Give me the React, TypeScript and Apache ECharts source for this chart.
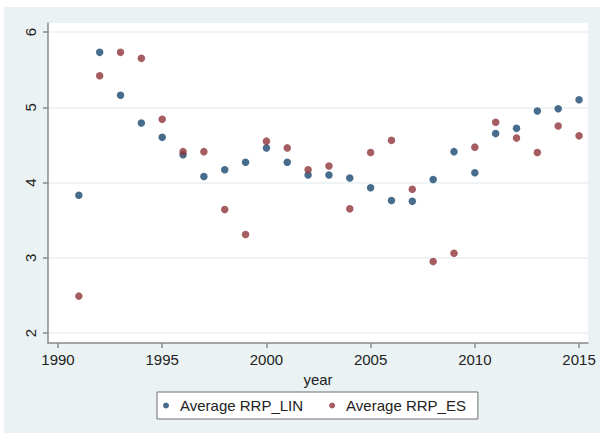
import React, { useEffect, useRef } from "react";
import * as echarts from "echarts";

const years = [1991, 1992, 1993, 1994, 1995, 1996, 1997, 1998, 1999, 2000, 2001, 2002, 2003, 2004, 2005, 2006, 2007, 2008, 2009, 2010, 2011, 2012, 2013, 2014, 2015];
const rrpLin = [3.83, 5.73, 5.16, 4.79, 4.6, 4.37, 4.08, 4.17, 4.27, 4.46, 4.27, 4.1, 4.1, 4.06, 3.93, 3.76, 3.75, 4.04, 4.41, 4.13, 4.65, 4.72, 4.95, 4.98, 5.1];
const rrpEs = [2.49, 5.42, 5.73, 5.65, 4.84, 4.41, 4.41, 3.64, 3.31, 4.55, 4.46, 4.17, 4.22, 3.65, 4.4, 4.56, 3.91, 2.95, 3.06, 4.47, 4.8, 4.59, 4.4, 4.75, 4.62];
const xTicks = [1990, 1995, 2000, 2005, 2010, 2015];
const yTicks = [2, 3, 4, 5, 6];
const seriesNames = ["Average RRP_LIN", "Average RRP_ES"];

const FONT = "Liberation Sans, Arial, sans-serif";

export default function App() {
  const ref = useRef<HTMLDivElement>(null);
  useEffect(() => {
    if (!ref.current) return;
    const chart = echarts.init(ref.current, undefined, { renderer: "svg" });
    const axisLineStyle = { color: "#8a8a8a", width: 1.5 };
    chart.setOption({
      animation: false,
      backgroundColor: "#ffffff",
      graphic: [
        {
          type: "rect",
          z: -10,
          silent: true,
          shape: { x: 4, y: 7, width: 596, height: 426 },
          style: { fill: "#eaf2f3" },
        },
      ],
      grid: {
        left: 48,
        top: 23,
        right: 12,
        bottom: 91,
        show: true,
        backgroundColor: "#ffffff",
        borderWidth: 0,
      },
      legend: {
        left: 157,
        top: 392,
        orient: "horizontal",
        backgroundColor: "#ffffff",
        borderColor: "#6e6e6e",
        borderWidth: 1,
        borderRadius: 0,
        padding: [6, 12, 6, 6],
        itemWidth: 6,
        itemHeight: 6,
        itemGap: 26,
        icon: "circle",
        textStyle: { fontFamily: FONT, fontSize: 15, color: "#222", padding: [0, 0, 0, 6] },
        data: seriesNames,
      },
      xAxis: {
        type: "value",
        min: 1989.52,
        max: 2015.43,
        name: "year",
        nameLocation: "middle",
        nameGap: 19,
        nameTextStyle: { fontFamily: FONT, fontSize: 15, color: "#222" },
        axisLine: { show: true, lineStyle: axisLineStyle },
        axisTick: { show: true, length: 5, inside: false, customValues: xTicks, lineStyle: axisLineStyle },
        axisLabel: {
          customValues: xTicks,
          formatter: (v: number) => String(v),
          fontFamily: FONT,
          fontSize: 15,
          color: "#222",
          margin: 9,
        },
        splitLine: { show: false },
      },
      yAxis: {
        type: "value",
        min: 1.867,
        max: 6.12,
        axisLine: { show: true, lineStyle: axisLineStyle },
        axisTick: { show: true, length: 5, inside: false, customValues: yTicks, lineStyle: axisLineStyle },
        axisLabel: { customValues: yTicks, rotate: 90, fontFamily: FONT, fontSize: 15, color: "#222", margin: 10 },
        splitLine: { show: true, lineStyle: { color: "#e8f0f2", width: 1.5 } },
      },
      series: [
        {
          name: seriesNames[0],
          type: "scatter",
          symbol: "circle",
          symbolSize: 7.5,
          itemStyle: { color: "#1a476f" },
          data: years.map((y, i) => [y, rrpLin[i]]),
        },
        {
          name: seriesNames[1],
          type: "scatter",
          symbol: "circle",
          symbolSize: 7.5,
          itemStyle: { color: "#90353b" },
          data: years.map((y, i) => [y, rrpEs[i]]),
        },
      ],
    });
    return () => chart.dispose();
  }, []);
  return (
    <div
      ref={ref}
      style={{ position: "absolute", left: 0, top: 0, width: 600, height: 434 }}
    />
  );
}
